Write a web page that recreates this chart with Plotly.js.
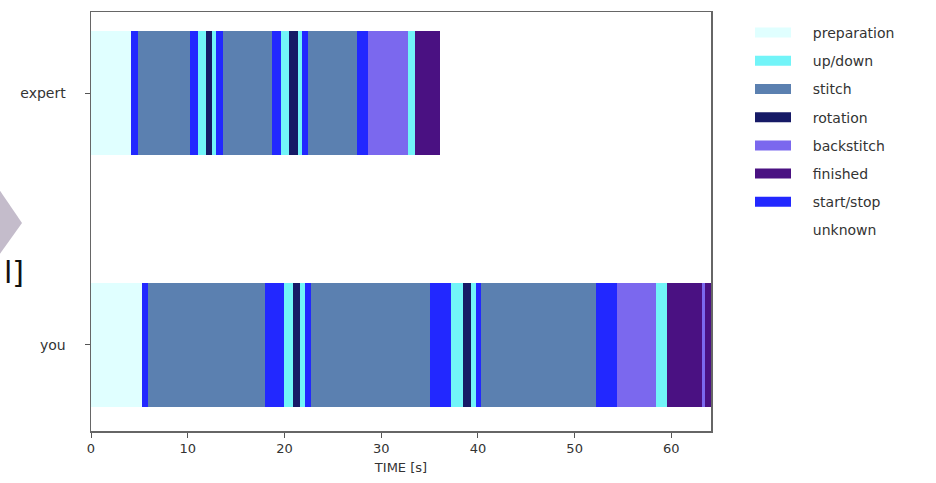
<!DOCTYPE html>
<html><head><meta charset="utf-8">
<script src="https://cdn.plot.ly/plotly-3.0.1.min.js"></script>
<style>html,body{margin:0;padding:0;background:#fff}</style>
</head><body><div id="chart" style="width:936px;height:483px"></div>
<script>
// ---- data ----
const rowLabels = ['you', 'expert'];
const rowPos = [0, 1];
const categories = ['preparation','up/down','stitch','rotation','backstitch','finished','start/stop','unknown'];
const categoryColors = ['#e0ffff','#72f4f8','#5b80b0','#161a66','#7b68ee','#4a1182','#2228ff','#ffffff'];

// segment boundaries (s) and activity of each segment, per row
const expertEdges = [0, 4.15, 4.85, 10.2, 11.05, 11.85, 12.55, 12.9, 13.6, 18.7, 19.6, 20.5, 21.4, 21.8, 22.45, 27.45, 28.6, 32.8, 33.45, 36.1];
const expertActs = ['preparation','start/stop','stitch','start/stop','up/down','rotation','up/down','start/stop','stitch','start/stop','up/down','rotation','up/down','start/stop','stitch','start/stop','backstitch','up/down','finished'];
const youEdges = [0, 5.27, 5.9, 18.0, 20.0, 20.9, 21.6, 22.1, 22.7, 35.0, 37.25, 38.45, 39.3, 39.85, 40.35, 52.25, 54.35, 58.45, 59.55, 63.2, 63.45, 65.0];
const youActs = ['preparation','start/stop','stitch','start/stop','up/down','rotation','up/down','start/stop','stitch','start/stop','up/down','rotation','up/down','start/stop','stitch','start/stop','backstitch','up/down','finished','backstitch','finished'];

const xTicks = [0, 10, 20, 30, 40, 50, 60];

// ---- build traces ----
const rows = [
  {pos: rowPos[0], edges: youEdges, acts: youActs},
  {pos: rowPos[1], edges: expertEdges, acts: expertActs}
];
const traces = [];
categories.forEach((cat, ci) => {
  const y = [], base = [], dur = [];
  rows.forEach(r => {
    r.acts.forEach((a, i) => {
      if (a === cat) { y.push(r.pos); base.push(r.edges[i]); dur.push(r.edges[i+1] - r.edges[i]); }
    });
  });
  traces.push({
    type: 'bar', orientation: 'h', y: y, x: dur, base: base, width: 0.493,
    marker: {color: categoryColors[ci], line: {width: 0}},
    showlegend: false, legendgroup: cat, hoverinfo: 'skip'
  });
});
// legend entries
categories.forEach((cat, ci) => {
  traces.push({
    type: 'scatter', mode: 'lines', x: [null], y: [null], name: '\u2003\u2009' + cat,
    line: {color: categoryColors[ci], width: 10}, legendgroup: cat, showlegend: true
  });
});

const L = 91, R = 711, T = 12, B = 431;
const px = v => (v - L) / (R - L);
const py = v => (B - v) / (B - T);

const layout = {
  width: 936, height: 483,
  margin: {l: L, r: 936 - R, t: T, b: 483 - B, pad: 0},
  paper_bgcolor: '#fff', plot_bgcolor: '#fff',
  barmode: 'overlay', bargap: 0,
  font: {family: 'DejaVu Sans', size: 12, color: '#333'},
  xaxis: {
    range: [0, 64.1], tickvals: xTicks, ticks: 'outside', ticklen: 5, tickcolor: '#555',
    showline: true, mirror: true, linecolor: '#666', linewidth: 1.5,
    showgrid: false, zeroline: false,
    tickfont: {size: 13, color: '#333'},
    title: {text: 'TIME [s]', font: {size: 13, color: '#333'}, standoff: 8}
  },
  yaxis: {
    range: [-0.343, 1.322], tickvals: rowPos, ticktext: rowLabels, ticks: 'outside', ticklen: 5, tickcolor: '#555',
    ticklabelstandoff: 16,
    showline: true, mirror: true, linecolor: '#666', linewidth: 1.5,
    showgrid: false, zeroline: false, tickfont: {size: 14, color: '#333'}
  },
  legend: {
    x: px(750), y: py(17), xanchor: 'left', yanchor: 'top',
    bgcolor: 'rgba(0,0,0,0)', font: {size: 14, color: '#333'},
    traceorder: 'grouped', tracegroupgap: 7, itemwidth: 36
  },
  shapes: [
    {type: 'path', xref: 'paper', yref: 'paper',
     path: `M ${px(-6)},${py(182)} L ${px(22)},${py(223)} L ${px(-6)},${py(262)} Z`,
     fillcolor: '#c4bccb', line: {width: 0}, layer: 'above'}
  ],
  annotations: [
    {xref: 'paper', yref: 'paper', x: px(2), y: py(272), xanchor: 'left', yanchor: 'middle',
     text: 'l]', showarrow: false, font: {family: 'DejaVu Sans', size: 30, color: '#111'}}
  ]
};

Plotly.newPlot('chart', traces, layout, {displayModeBar: false, staticPlot: true});
</script>
</body></html>
